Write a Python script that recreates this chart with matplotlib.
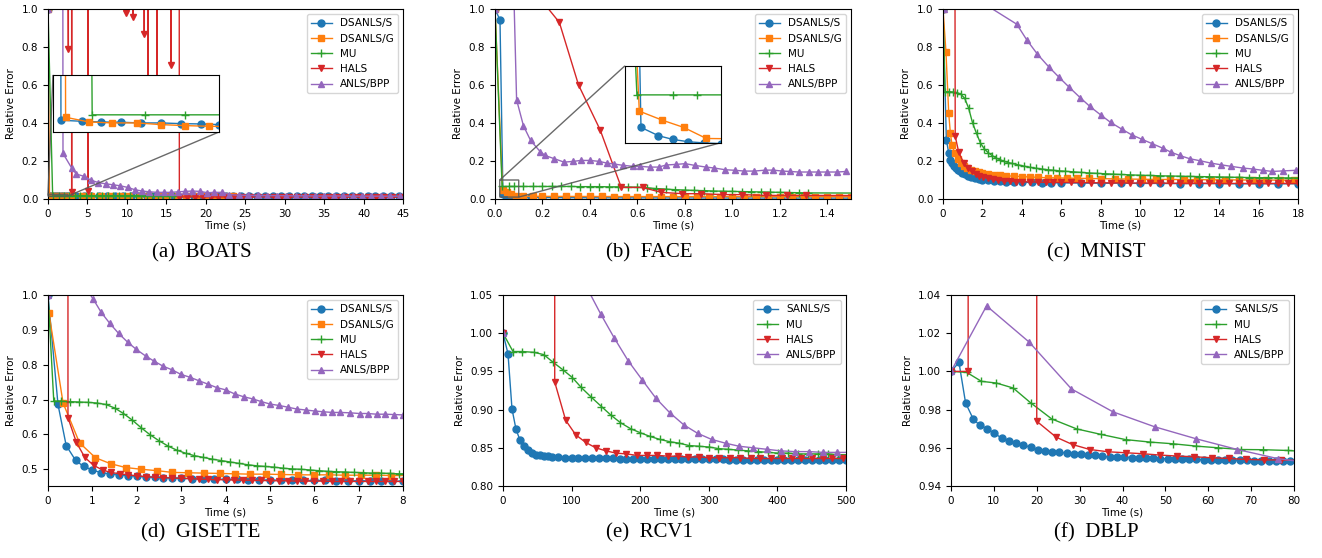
import matplotlib.pyplot as plt

# Relative error vs. time for six datasets.
# Points at 40 / 30 / 2.5 etc. are "off the top" of the axes (spikes).

# ---------------- (a) BOATS ----------------
a_dss_t = [0, 0.12, 0.43, 0.72, 1.02, 1.32, 1.62, 1.92, 2.22, 2.50,
           3.5, 4.5, 5.5, 6.5, 7.5, 8.5, 9.5, 10.5, 11.5, 12.5,
           13.5, 14.5, 15.5, 16.5, 17.5, 18.5, 19.5, 20.5, 21.5, 22.5,
           23.5, 24.5, 25.5, 26.5, 27.5, 28.5, 29.5, 30.5, 31.5, 32.5,
           33.5, 34.5, 35.5, 36.5, 37.5, 38.5, 39.5, 40.5, 41.5, 42.5,
           43.5, 44.5]
a_dss_v = [1.0, 0.01705, 0.01687, 0.01675, 0.0167, 0.01658, 0.01658, 0.01646, 0.0164, 0.01628,
           0.0162, 0.0162, 0.0161, 0.0161, 0.0161, 0.0160, 0.0160, 0.0160, 0.0160, 0.0159,
           0.0159, 0.0159, 0.0159, 0.0159, 0.0158, 0.0158, 0.0158, 0.0158, 0.0158, 0.0158,
           0.0157, 0.0157, 0.0157, 0.0157, 0.0157, 0.0157, 0.0157, 0.0157, 0.0156, 0.0156,
           0.0156, 0.0156, 0.0156, 0.0156, 0.0156, 0.0156, 0.0156, 0.0156, 0.0156, 0.0156,
           0.0156, 0.0156]
a_dsg_t = [0, 0.19, 0.54, 0.89, 1.26, 1.62, 1.98, 2.35,
           3.1, 4.3, 5.5, 6.7, 7.9, 9.1, 10.3, 11.5, 12.7, 13.9,
           15.1, 16.3, 17.5, 18.7, 19.9, 21.1, 22.3, 23.5]
a_dsg_v = [1.0, 0.01757, 0.01675, 0.01658, 0.01658, 0.01629, 0.01611, 0.01599,
           0.0159, 0.0158, 0.0157, 0.0156, 0.0155, 0.0155, 0.0154, 0.0154, 0.0153, 0.0153,
           0.0152, 0.0152, 0.0152, 0.0151, 0.0151, 0.0151, 0.0150, 0.0150]
a_mu_t = [0, 0.59, 1.39, 1.99, 2.7, 3.4, 4.1, 4.8, 5.5, 6.2, 6.9, 7.6,
          8.3, 9.0, 9.7, 10.4, 11.1, 11.8, 12.5, 13.2, 13.9, 14.6, 15.3, 16.0]
a_mu_v = [1.0, 0.0180, 0.0180, 0.0180, 0.0180, 0.0180, 0.0180, 0.0179, 0.0179, 0.0179, 0.0179, 0.0179,
          0.0179, 0.0179, 0.0178, 0.0178, 0.0178, 0.0178, 0.0178, 0.0178, 0.0178, 0.0178, 0.0178, 0.0178]
a_hals_t = [0, 2.58, 2.85, 3.0, 3.15, 5.1, 5.3, 9.9, 10.35, 10.8,
            11.5, 12.2, 12.45, 12.7, 13.25, 13.8, 14.6, 15.6, 16.1, 16.65,
            17.6, 18.6, 19.6, 20.6, 21.6, 22.6, 23.6, 24.6, 25.6, 26.6,
            27.6, 28.6, 29.6, 30.6, 31.6, 32.6, 33.6, 34.6, 35.6, 36.6,
            37.6, 38.6, 39.6, 40.6, 41.6, 42.6, 43.6, 44.6]
a_hals_v = [40, 0.79, 40, 0.037, 40, 0.04, 40, 0.98, 40, 0.96,
            40, 0.87, 40, 0.5, 40, 0.45, 40, 0.705, 40, 0.011,
            0.011, 0.011, 0.011, 0.011, 0.011, 0.011, 0.010, 0.010, 0.010, 0.010,
            0.010, 0.010, 0.010, 0.010, 0.010, 0.010, 0.010, 0.010, 0.010, 0.010,
            0.010, 0.010, 0.010, 0.010, 0.010, 0.010, 0.010, 0.010]
a_bpp_t = [0, 1.0, 1.9, 3.0, 3.6, 4.6, 5.4, 6.4, 7.3, 8.2,
           9.1, 10.1, 11.0, 11.9, 12.8, 13.8, 14.7, 15.6, 16.5, 17.4,
           18.3, 19.3, 20.2, 21.1, 22.1, 23.0, 24.2, 25.4, 26.6, 27.8,
           29.0, 30.2, 31.4, 32.6, 33.8, 35.0, 36.2, 37.4, 38.6, 39.8,
           41.0, 42.2, 43.4, 44.6]
a_bpp_v = [1.0, 40, 0.24, 0.163, 0.131, 0.119, 0.10, 0.086, 0.08, 0.075,
           0.07, 0.061, 0.049, 0.042, 0.038, 0.035, 0.035, 0.035, 0.038, 0.04,
           0.042, 0.04, 0.033, 0.035, 0.035, 0.023, 0.02, 0.019, 0.019, 0.018,
           0.018, 0.017, 0.017, 0.017, 0.016, 0.016, 0.016, 0.016, 0.015, 0.015,
           0.015, 0.015, 0.015, 0.015]

# ---------------- (b) FACE ----------------
b_dss_t = [0, 0.021, 0.0334, 0.0479, 0.060, 0.073, 0.086, 0.10, 0.15, 0.20,
           0.25, 0.30, 0.35, 0.40, 0.45, 0.50, 0.55, 0.60, 0.65, 0.70,
           0.75, 0.80, 0.85, 0.90, 0.95, 1.00, 1.05, 1.10, 1.15, 1.20,
           1.25, 1.30, 1.35, 1.40, 1.45, 1.50]
b_dss_v = [1.0, 0.942, 0.028, 0.0183, 0.0139, 0.0112, 0.0098, 0.0090, 0.0080, 0.0075,
           0.0071, 0.0068, 0.0066, 0.0064, 0.0062, 0.0061, 0.0060, 0.0059, 0.0058, 0.0057,
           0.0056, 0.0055, 0.0055, 0.0054, 0.0054, 0.0053, 0.0053, 0.0052, 0.0052, 0.0052,
           0.0051, 0.0051, 0.0051, 0.0050, 0.0050, 0.0050]
b_dsg_t = [0, 0.032, 0.051, 0.069, 0.088, 0.12, 0.16, 0.20, 0.25, 0.30,
           0.35, 0.40, 0.45, 0.50, 0.55, 0.60, 0.65, 0.70, 0.75, 0.80,
           0.85, 0.90, 0.95, 1.00, 1.05, 1.10, 1.15, 1.20, 1.25, 1.30,
           1.35, 1.40, 1.45, 1.50]
b_dsg_v = [1.0, 0.047, 0.0365, 0.028, 0.0150, 0.0145, 0.0142, 0.0140, 0.0138, 0.0136,
           0.0134, 0.0133, 0.0132, 0.0131, 0.0130, 0.0129, 0.0128, 0.0127, 0.0126, 0.0126,
           0.0125, 0.0125, 0.0124, 0.0124, 0.0123, 0.0123, 0.0122, 0.0122, 0.0121, 0.0121,
           0.0120, 0.0120, 0.0119, 0.0118]
b_mu_t = [0, 0.030, 0.060, 0.080, 0.12, 0.16, 0.20, 0.24, 0.28, 0.32,
          0.36, 0.40, 0.44, 0.48, 0.52, 0.56, 0.60, 0.64, 0.68, 0.72,
          0.76, 0.80, 0.84, 0.88, 0.92, 0.96, 1.00, 1.04, 1.08, 1.12,
          1.16, 1.20, 1.24, 1.28, 1.32, 1.60]
b_mu_v = [1.0, 0.066, 0.066, 0.066, 0.066, 0.066, 0.066, 0.066, 0.066, 0.066,
          0.065, 0.065, 0.065, 0.064, 0.064, 0.063, 0.062, 0.059, 0.055, 0.052,
          0.049, 0.047, 0.045, 0.044, 0.042, 0.041, 0.040, 0.039, 0.038, 0.037,
          0.036, 0.035, 0.034, 0.033, 0.032, 0.031]
b_hals_t = [0, 0.09, 0.18, 0.271, 0.352, 0.443, 0.532, 0.622, 0.70, 0.79,
            0.87, 0.96, 1.04, 1.14, 1.23, 1.31, 1.6]
b_hals_v = [1.6, 1.25, 1.07, 0.93, 0.60, 0.364, 0.061, 0.061, 0.035, 0.028,
            0.028, 0.023, 0.023, 0.019, 0.019, 0.019, 0.018]
b_bpp_t = [0, 0.05, 0.091, 0.12, 0.15, 0.19, 0.211, 0.25, 0.291, 0.33,
           0.361, 0.40, 0.439, 0.471, 0.502, 0.541, 0.581, 0.612, 0.651, 0.689,
           0.722, 0.761, 0.802, 0.841, 0.889, 0.924, 0.970, 1.013, 1.05, 1.093,
           1.139, 1.172, 1.21, 1.242, 1.28, 1.322, 1.36, 1.40, 1.442, 1.481]
b_bpp_v = [1.0, 2.5, 0.522, 0.385, 0.308, 0.25, 0.229, 0.212, 0.194, 0.198,
           0.203, 0.203, 0.198, 0.189, 0.184, 0.177, 0.172, 0.172, 0.168, 0.168,
           0.179, 0.182, 0.186, 0.177, 0.168, 0.163, 0.154, 0.151, 0.147, 0.147,
           0.152, 0.152, 0.147, 0.145, 0.142, 0.142, 0.142, 0.142, 0.142, 0.145]

# ---------------- (c) MNIST ----------------
c_dss_t = [0, 0.17, 0.29, 0.37, 0.45, 0.55, 0.65, 0.75, 0.85, 0.95,
           1.1, 1.25, 1.4, 1.6, 1.8, 2.0, 2.3, 2.6, 2.9, 3.2,
           3.6, 4.0, 4.5, 5.0, 5.5, 6.0, 7.0, 8.0, 9.0, 10.0,
           11.0, 12.0, 13.0, 14.0, 15.0, 16.0, 17.0, 18.0]
c_dss_v = [1.0, 0.312, 0.242, 0.207, 0.19, 0.175, 0.163, 0.153, 0.145, 0.138,
           0.13, 0.123, 0.117, 0.111, 0.106, 0.102, 0.098, 0.095, 0.093, 0.091,
           0.089, 0.088, 0.087, 0.086, 0.085, 0.085, 0.084, 0.083, 0.083, 0.082,
           0.082, 0.081, 0.081, 0.081, 0.080, 0.080, 0.080, 0.080]
c_dsg_t = [0, 0.15, 0.29, 0.37, 0.46, 0.6, 0.75, 0.9, 1.05, 1.2,
           1.4, 1.6, 1.8, 2.0, 2.3, 2.6, 2.9, 3.2, 3.6, 4.0,
           4.4, 4.8, 5.3, 5.8, 6.3, 6.8, 7.4, 8.0, 8.7, 9.4,
           10.1, 10.8, 11.5, 12.2, 12.9, 13.6, 14.3, 15.0, 15.7, 16.4,
           17.1, 17.8]
c_dsg_v = [1.0, 0.775, 0.452, 0.35, 0.282, 0.24, 0.21, 0.19, 0.175, 0.165,
           0.155, 0.147, 0.14, 0.136, 0.132, 0.128, 0.125, 0.122, 0.12, 0.118,
           0.116, 0.114, 0.112, 0.111, 0.11, 0.109, 0.108, 0.107, 0.106, 0.105,
           0.104, 0.103, 0.103, 0.102, 0.102, 0.101, 0.101, 0.100, 0.100, 0.100,
           0.099, 0.099]
c_mu_t = [0, 0.1, 0.3, 0.5, 0.7, 0.9, 1.1, 1.3, 1.5, 1.7,
          1.9, 2.1, 2.3, 2.5, 2.7, 2.9, 3.1, 3.3, 3.5, 3.8,
          4.1, 4.4, 4.7, 5.0, 5.3, 5.6, 5.9, 6.2, 6.6, 7.0,
          7.4, 7.8, 8.2, 8.6, 9.0, 9.5, 10.0, 10.5, 11.0, 11.5,
          12.0, 12.5, 13.0, 13.5, 14.0, 14.5, 15.0, 15.5, 16.0, 16.5,
          17.0, 17.5, 18.0]
c_mu_v = [1.0, 0.565, 0.565, 0.563, 0.56, 0.552, 0.53, 0.478, 0.40, 0.345,
          0.294, 0.263, 0.243, 0.228, 0.215, 0.206, 0.198, 0.192, 0.187, 0.18,
          0.173, 0.167, 0.162, 0.158, 0.154, 0.151, 0.148, 0.146, 0.143, 0.14,
          0.137, 0.135, 0.133, 0.131, 0.129, 0.127, 0.125, 0.124, 0.122, 0.121,
          0.12, 0.119, 0.118, 0.117, 0.116, 0.115, 0.114, 0.113, 0.112, 0.112,
          0.111, 0.111, 0.11]
c_hals_t = [0, 0.62, 0.8, 1.05, 1.25, 1.45, 1.65, 1.85, 2.05, 2.3,
            2.55, 2.8, 3.1, 3.4, 3.7, 4.0, 4.4, 4.8, 5.2, 5.6,
            6.0, 6.5, 7.0, 7.5, 8.0, 8.5, 9.0, 9.5, 10.0, 10.5,
            11.0, 11.5, 12.0, 12.5, 13.0, 13.5, 14.0, 14.5, 15.0, 15.5,
            16.0, 16.5, 17.0, 17.5, 18.0]
c_hals_v = [40, 0.33, 0.245, 0.19, 0.163, 0.145, 0.132, 0.122, 0.115, 0.108,
            0.103, 0.099, 0.096, 0.094, 0.092, 0.091, 0.09, 0.089, 0.088, 0.088,
            0.087, 0.087, 0.086, 0.086, 0.085, 0.085, 0.085, 0.084, 0.084, 0.084,
            0.084, 0.083, 0.083, 0.083, 0.083, 0.083, 0.082, 0.082, 0.082, 0.082,
            0.082, 0.082, 0.082, 0.082, 0.082]
c_bpp_t = [0.07, 1.0, 2.2, 3.74, 4.25, 4.79, 5.35, 5.89, 6.41, 6.95,
           7.45, 7.99, 8.5, 9.06, 9.56, 10.07, 10.61, 11.13, 11.55, 12.0,
           12.51, 13.05, 13.58, 14.1, 14.6, 15.2, 15.7, 16.2, 16.7, 17.25,
           17.9]
c_bpp_v = [1.0, 1.5, 1.02, 0.92, 0.837, 0.762, 0.697, 0.64, 0.587, 0.534,
           0.487, 0.443, 0.403, 0.368, 0.338, 0.315, 0.291, 0.268, 0.247, 0.229,
           0.212, 0.201, 0.189, 0.18, 0.172, 0.163, 0.158, 0.151, 0.145, 0.148,
           0.151]

# ---------------- (d) GISETTE ----------------
d_dss_t = [0, 0.225, 0.41, 0.62, 0.80, 1.0, 1.2, 1.39, 1.6, 1.8,
           2.0, 2.2, 2.4, 2.6, 2.8, 3.0, 3.25, 3.5, 3.75, 4.0,
           4.25, 4.5, 4.75, 5.0, 5.25, 5.5, 5.75, 6.0, 6.25, 6.5,
           6.75, 7.0, 7.25, 7.5, 7.75, 8.0]
d_dss_v = [1.0, 0.686, 0.568, 0.526, 0.508, 0.498, 0.49, 0.487, 0.484, 0.482,
           0.480, 0.478, 0.477, 0.476, 0.475, 0.474, 0.473, 0.472, 0.472, 0.471,
           0.471, 0.470, 0.470, 0.469, 0.469, 0.469, 0.468, 0.468, 0.468, 0.467,
           0.467, 0.467, 0.467, 0.466, 0.466, 0.466]
d_dsg_t = [0.02, 0.34, 0.71, 1.07, 1.41, 1.75, 2.1, 2.46, 2.8, 3.16,
           3.51, 3.87, 4.21, 4.56, 4.92, 5.26, 5.64, 5.99, 6.34, 6.69,
           7.05, 7.4, 7.74, 8.1]
d_dsg_v = [0.949, 0.69, 0.576, 0.533, 0.516, 0.505, 0.50, 0.496, 0.491, 0.49,
           0.489, 0.488, 0.487, 0.486, 0.486, 0.485, 0.484, 0.484, 0.484, 0.483,
           0.483, 0.483, 0.482, 0.482]
d_mu_t = [0, 0.13, 0.3, 0.5, 0.7, 0.9, 1.1, 1.3, 1.5, 1.7,
          1.9, 2.1, 2.3, 2.5, 2.7, 2.9, 3.1, 3.3, 3.5, 3.7,
          3.9, 4.1, 4.3, 4.5, 4.7, 4.9, 5.1, 5.3, 5.5, 5.7,
          5.9, 6.1, 6.3, 6.5, 6.7, 6.9, 7.1, 7.3, 7.5, 7.7,
          7.9, 8.1]
d_mu_v = [1.0, 0.696, 0.695, 0.694, 0.693, 0.692, 0.69, 0.686, 0.676, 0.66,
          0.641, 0.619, 0.599, 0.582, 0.567, 0.555, 0.546, 0.539, 0.534, 0.529,
          0.525, 0.521, 0.517, 0.513, 0.51, 0.508, 0.506, 0.503, 0.501, 0.5,
          0.498, 0.496, 0.494, 0.493, 0.492, 0.491, 0.49, 0.489, 0.489, 0.488,
          0.487, 0.487]
d_hals_t = [0.42, 0.45, 0.64, 0.83, 1.03, 1.23, 1.41, 1.62, 1.8, 2.0,
            2.2, 2.4, 2.6, 2.8, 3.0, 3.2, 3.4, 3.6, 3.8, 4.0,
            4.2, 4.4, 4.6, 4.8, 5.0, 5.2, 5.4, 5.6, 5.8, 6.0,
            6.2, 6.4, 6.6, 6.8, 7.0, 7.2, 7.4, 7.6, 7.8, 8.0]
d_hals_v = [40, 0.648, 0.577, 0.534, 0.511, 0.498, 0.491, 0.487, 0.484, 0.481,
            0.479, 0.477, 0.476, 0.475, 0.474, 0.473, 0.472, 0.471, 0.470, 0.470,
            0.469, 0.469, 0.468, 0.468, 0.467, 0.467, 0.467, 0.466, 0.466, 0.466,
            0.466, 0.465, 0.465, 0.465, 0.465, 0.465, 0.465, 0.465, 0.465, 0.465]
d_bpp_t = [0, 0.8, 1.02, 1.2, 1.39, 1.59, 1.8, 1.99, 2.2, 2.38,
           2.59, 2.8, 3.0, 3.2, 3.4, 3.61, 3.81, 4.0, 4.21, 4.41,
           4.61, 4.81, 5.01, 5.21, 5.41, 5.6, 5.81, 6.02, 6.2, 6.41,
           6.59, 6.8, 7.02, 7.2, 7.41, 7.59, 7.8, 8.0]
d_bpp_v = [1.0, 1.03, 0.988, 0.95, 0.919, 0.89, 0.864, 0.844, 0.825, 0.811,
           0.796, 0.785, 0.772, 0.764, 0.754, 0.744, 0.734, 0.728, 0.716, 0.708,
           0.702, 0.694, 0.687, 0.683, 0.678, 0.673, 0.670, 0.667, 0.665, 0.663,
           0.663, 0.662, 0.66, 0.66, 0.658, 0.658, 0.657, 0.656]

# ---------------- (e) RCV1 ----------------
e_ss_t = [0, 7.3, 13.1, 19, 24.8, 30.6, 36.5, 42.3, 48, 54, 60, 66, 72,
          80, 90, 100, 110, 120, 130, 140, 150, 160, 170,
          180, 190, 200, 210, 220, 230, 240, 250, 260, 270,
          280, 290, 300, 310, 320, 330, 340, 350, 360, 370,
          380, 390, 400, 410, 420, 430, 440, 450, 460, 470,
          480, 490, 500]
e_ss_v = [1.0, 0.973, 0.901, 0.874, 0.86, 0.852, 0.847, 0.843, 0.841, 0.840, 0.839, 0.839, 0.838,
          0.838, 0.837, 0.837, 0.837, 0.836, 0.836, 0.836, 0.836, 0.836, 0.835,
          0.835, 0.835, 0.835, 0.835, 0.835, 0.835, 0.835, 0.835, 0.835, 0.835,
          0.835, 0.835, 0.835, 0.835, 0.835, 0.834, 0.834, 0.834, 0.834, 0.834,
          0.834, 0.834, 0.834, 0.834, 0.834, 0.834, 0.834, 0.834, 0.834, 0.834,
          0.834, 0.834, 0.834]
e_mu_t = [0, 14.6, 28.2, 44.7, 59.3, 73, 87.5, 101, 114, 129,
          143.5, 157, 171, 186, 199.4, 214, 228.6, 243, 257, 271,
          286, 300.6, 313.7, 328, 343, 357.5, 372, 386.7, 401, 416,
          430, 445, 459.6, 474, 489, 503]
e_mu_v = [1.0, 0.976, 0.976, 0.975, 0.972, 0.962, 0.952, 0.942, 0.929, 0.916,
          0.904, 0.893, 0.883, 0.875, 0.870, 0.865, 0.861, 0.858, 0.856, 0.853,
          0.852, 0.851, 0.849, 0.848, 0.847, 0.846, 0.845, 0.844, 0.843, 0.843,
          0.842, 0.842, 0.842, 0.842, 0.841, 0.841]
e_hals_t = [0, 1, 74, 75.4, 91.4, 106, 120.6, 135.2, 150, 165,
            180, 195.5, 210, 225, 241, 255, 270, 286, 300, 315,
            331, 345, 361, 375, 390, 406, 421, 435, 450, 466,
            480, 496]
e_hals_v = [1.0, 30, 30, 0.936, 0.886, 0.867, 0.857, 0.85, 0.846, 0.843,
            0.842, 0.840, 0.84, 0.84, 0.839, 0.839, 0.838, 0.838, 0.837, 0.837,
            0.837, 0.837, 0.836, 0.836, 0.836, 0.836, 0.836, 0.836, 0.836, 0.836,
            0.836, 0.836]
e_bpp_t = [0, 1, 122, 142.5, 162, 182.4, 202.8, 222.8, 243, 263.6,
           283.6, 304, 324.4, 344.4, 364.8, 385, 404.7, 425.6, 446, 466,
           486.4, 506]
e_bpp_v = [1.0, 30, 1.06, 1.025, 0.994, 0.964, 0.939, 0.915, 0.896, 0.880,
           0.869, 0.861, 0.856, 0.852, 0.850, 0.848, 0.846, 0.845, 0.845, 0.844,
           0.844, 0.844]

# ---------------- (f) DBLP ----------------
f_ss_t = [0, 1.86, 3.4, 5.2, 6.76, 8.47, 10.1, 11.8, 13.5, 15.1,
          16.9, 18.6, 20.2, 21.9, 23.6, 25.2, 26.95, 28.7, 30.3, 32,
          33.7, 35.3, 37, 38.8, 40.4, 42.1, 43.8, 45.4, 47.1, 48.85,
          50.5, 52.2, 53.9, 55.5, 57.2, 58.95, 60.6, 62.3, 64, 65.6,
          67.3, 69, 70.7, 72.4, 74.1, 75.7, 77.4, 79.1]
f_ss_v = [1.0, 1.0047, 0.9835, 0.975, 0.9717, 0.970, 0.9675, 0.9652, 0.9638, 0.9626,
          0.9614, 0.9603, 0.9591, 0.9584, 0.9579, 0.9577, 0.9572, 0.9569, 0.9565, 0.9562,
          0.956, 0.9557, 0.9551, 0.9551, 0.9551, 0.9548, 0.9548, 0.9544, 0.9544, 0.9543,
          0.9543, 0.9541, 0.9541, 0.9539, 0.9539, 0.9537, 0.9537, 0.9536, 0.9536, 0.9534,
          0.9534, 0.9534, 0.9532, 0.9532, 0.953, 0.953, 0.953, 0.9529]
f_mu_t = [0, 3.65, 7.1, 10.6, 14.5, 18.6, 23.5, 29.3, 35, 40.7,
          46.4, 51.8, 57.1, 62.3, 67.7, 72.8, 78.6, 84]
f_mu_v = [1.0, 0.9995, 0.9948, 0.9939, 0.9913, 0.9835, 0.9751, 0.9699, 0.967, 0.9643,
          0.963, 0.9621, 0.9609, 0.96, 0.9591, 0.959, 0.9586, 0.9578]
f_hals_t = [0, 4.0, 4.1, 19.9, 20.0, 24.5, 28.35, 32.4, 36.7, 40.8,
            44.7, 48.7, 52.6, 56.7, 60.9, 64.9, 68.9, 73.0, 77.0, 81.0]
f_hals_v = [1.0, 1.0, 40, 40, 0.9739, 0.9656, 0.9617, 0.9591, 0.9579, 0.9574,
            0.9569, 0.9562, 0.9557, 0.9553, 0.9548, 0.9544, 0.9539, 0.9537, 0.9536, 0.9534]
f_bpp_t = [0, 8.3, 18.25, 28.1, 37.8, 47.5, 57.2, 66.8, 76.3, 85.8]
f_bpp_v = [1.0, 1.0343, 1.0153, 0.9908, 0.9788, 0.971, 0.9647, 0.9591, 0.9543, 0.9515]

# colour / marker per method (matplotlib default cycle colours)
STYLE = {
    "DSANLS/S": ("C0", "o"),
    "SANLS/S": ("C0", "o"),
    "DSANLS/G": ("C1", "s"),
    "MU": ("C2", "+"),
    "HALS": ("C3", "v"),
    "ANLS/BPP": ("C4", "^"),
}

plt.rcParams["font.size"] = 7.5
plt.rcParams["xtick.labelsize"] = 7.5
plt.rcParams["ytick.labelsize"] = 7.5

fig = plt.figure(figsize=(13.22, 5.58), dpi=100)
W, H = 1322.0, 558.0


def add_panel(left, top, right, bottom):
    # pixel box -> figure fraction
    return fig.add_axes([left / W, 1 - bottom / H, (right - left) / W, (bottom - top) / H])


def draw(ax, curves, labels=True):
    for name, t, v in curves:
        color, marker = STYLE[name]
        ax.plot(t, v, color=color, marker=marker,
                markersize=6 if marker == "+" else 5, linewidth=1,
                label=name if labels else None)


def finish(ax, xlim, ylim, xticks, yticks):
    ax.set_xlim(*xlim)
    ax.set_ylim(*ylim)
    ax.set_xticks(xticks)
    ax.set_yticks(yticks)
    ax.set_xlabel("Time (s)", labelpad=1)
    ax.set_ylabel("Relative Error")
    ax.legend(loc="upper right", fontsize=7.5)


def inset(ax, curves, rect, xlim, ylim):
    axins = ax.inset_axes(rect)
    draw(axins, curves, labels=False)
    axins.set_xlim(*xlim)
    axins.set_ylim(*ylim)
    axins.set_xticks([])
    axins.set_yticks([])
    ax.indicate_inset_zoom(axins, edgecolor="0.35", alpha=0.9)


# (a) BOATS
ax = add_panel(48, 9, 403, 199)
curves = [("DSANLS/S", a_dss_t, a_dss_v), ("DSANLS/G", a_dsg_t, a_dsg_v),
          ("MU", a_mu_t, a_mu_v), ("HALS", a_hals_t, a_hals_v),
          ("ANLS/BPP", a_bpp_t, a_bpp_v)]
draw(ax, curves)
finish(ax, (0, 45), (0, 1.0), range(0, 46, 5), [0, 0.2, 0.4, 0.6, 0.8, 1.0])
inset(ax, curves, [0.014, 0.353, 0.468, 0.30], (0, 2.5), (0.015, 0.025))

# (b) FACE
ax = add_panel(495, 9, 851, 199)
curves = [("DSANLS/S", b_dss_t, b_dss_v), ("DSANLS/G", b_dsg_t, b_dsg_v),
          ("MU", b_mu_t, b_mu_v), ("HALS", b_hals_t, b_hals_v),
          ("ANLS/BPP", b_bpp_t, b_bpp_v)]
draw(ax, curves)
finish(ax, (0, 1.5), (0, 1.0), [0, 0.2, 0.4, 0.6, 0.8, 1.0, 1.2, 1.4],
       [0, 0.2, 0.4, 0.6, 0.8, 1.0])
inset(ax, curves, [0.365, 0.296, 0.269, 0.405], (0.02, 0.10), (0.01, 0.10))

# (c) MNIST
ax = add_panel(943, 9, 1298, 199)
draw(ax, [("DSANLS/S", c_dss_t, c_dss_v), ("DSANLS/G", c_dsg_t, c_dsg_v),
          ("MU", c_mu_t, c_mu_v), ("HALS", c_hals_t, c_hals_v),
          ("ANLS/BPP", c_bpp_t, c_bpp_v)])
finish(ax, (0, 18), (0, 1.0), range(0, 19, 2), [0, 0.2, 0.4, 0.6, 0.8, 1.0])

# (d) GISETTE
ax = add_panel(48, 295, 403, 486)
draw(ax, [("DSANLS/S", d_dss_t, d_dss_v), ("DSANLS/G", d_dsg_t, d_dsg_v),
          ("MU", d_mu_t, d_mu_v), ("HALS", d_hals_t, d_hals_v),
          ("ANLS/BPP", d_bpp_t, d_bpp_v)])
finish(ax, (0, 8), (0.452, 1.0), range(0, 9), [0.5, 0.6, 0.7, 0.8, 0.9, 1.0])

# (e) RCV1
ax = add_panel(503, 295, 846, 486)
draw(ax, [("SANLS/S", e_ss_t, e_ss_v), ("MU", e_mu_t, e_mu_v),
          ("HALS", e_hals_t, e_hals_v), ("ANLS/BPP", e_bpp_t, e_bpp_v)])
finish(ax, (0, 500), (0.80, 1.05), range(0, 501, 100),
       [0.80, 0.85, 0.90, 0.95, 1.00, 1.05])

# (f) DBLP
ax = add_panel(951, 295, 1294, 486)
draw(ax, [("SANLS/S", f_ss_t, f_ss_v), ("MU", f_mu_t, f_mu_v),
          ("HALS", f_hals_t, f_hals_v), ("ANLS/BPP", f_bpp_t, f_bpp_v)])
finish(ax, (0, 80), (0.94, 1.04), range(0, 81, 10),
       [0.94, 0.96, 0.98, 1.00, 1.02, 1.04])

# sub-captions
captions = [("(a)  BOATS", 202, 253), ("(b)  FACE", 649, 253), ("(c)  MNIST", 1096, 253),
            ("(d)  GISETTE", 201, 533), ("(e)  RCV1", 649, 533), ("(f)  DBLP", 1096, 533)]
for text, x, y in captions:
    fig.text(x / W, 1 - y / H, text, ha="center", va="center",
             family="Liberation Serif", fontsize=15)

fig.savefig("out.png", dpi=100)
